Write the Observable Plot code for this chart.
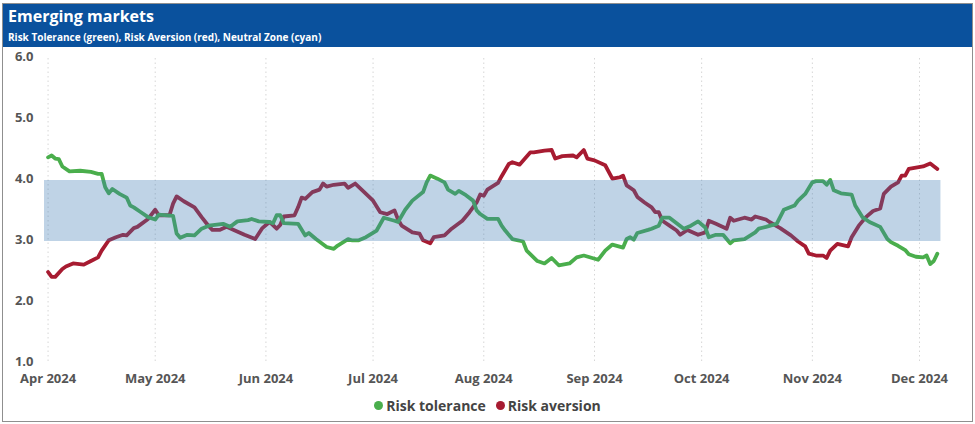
<!DOCTYPE html>
<html>
<head>
<meta charset="utf-8">
<script src="https://cdn.jsdelivr.net/npm/d3@7"></script>
<script src="https://cdn.jsdelivr.net/npm/@observablehq/plot@0.6"></script>
<style>
  html, body { margin: 0; padding: 0; background: #fff; }
  body { width: 975px; height: 424px; position: relative; overflow: hidden; font-family: "Open Sans", "Noto Sans", sans-serif; }
  #frame { position: absolute; left: 2px; top: 3px; width: 969px; height: 417px; border: 1px solid #8f8f8f; }
  #header { height: 43px; background: #0a519d; color: #fff; position: relative; }
  #title { position: absolute; left: 5px; top: 1px; font-size: 16px; font-weight: 700; }
  #subtitle { position: absolute; left: 5px; top: 26px; font-size: 10px; font-weight: 700; }
  #chart svg { display: block; }
  #legend { display: flex; justify-content: center; align-items: center; gap: 10px; margin-top: 9px; font-size: 14px; font-weight: 700; color: #444; }
  .item { display: flex; align-items: center; gap: 3px; }
  .dot { width: 9px; height: 9px; border-radius: 50%; display: inline-block; }
</style>
</head>
<body>
<div id="frame">
  <div id="header">
    <div id="title">Emerging markets</div>
    <div id="subtitle">Risk Tolerance (green), Risk Aversion (red), Neutral Zone (cyan)</div>
  </div>
  <div id="chart"></div>
  <div id="legend"></div>
</div>
<script>
const seriesNames = ["Risk tolerance", "Risk aversion"];
const seriesColors = ["#4aae4c", "#a71b31"];

const toleranceDates = ["2024-04-01","2024-04-02","2024-04-03","2024-04-04","2024-04-05","2024-04-07","2024-04-10","2024-04-13","2024-04-15","2024-04-16","2024-04-17","2024-04-18","2024-04-19","2024-04-21","2024-04-23","2024-04-24","2024-04-25","2024-04-27","2024-04-29","2024-05-01","2024-05-02","2024-05-06","2024-05-07","2024-05-08","2024-05-10","2024-05-12","2024-05-14","2024-05-16","2024-05-20","2024-05-22","2024-05-24","2024-05-27","2024-05-28","2024-05-30","2024-06-02","2024-06-03","2024-06-04","2024-06-05","2024-06-06","2024-06-10","2024-06-12","2024-06-13","2024-06-15","2024-06-18","2024-06-20","2024-06-21","2024-06-24","2024-06-25","2024-06-27","2024-06-29","2024-07-02","2024-07-04","2024-07-07","2024-07-08","2024-07-10","2024-07-12","2024-07-15","2024-07-16","2024-07-17","2024-07-19","2024-07-21","2024-07-22","2024-07-24","2024-07-25","2024-07-27","2024-07-29","2024-07-30","2024-07-31","2024-08-02","2024-08-05","2024-08-06","2024-08-07","2024-08-09","2024-08-12","2024-08-13","2024-08-16","2024-08-18","2024-08-20","2024-08-22","2024-08-25","2024-08-27","2024-08-29","2024-09-02","2024-09-04","2024-09-06","2024-09-09","2024-09-10","2024-09-11","2024-09-12","2024-09-13","2024-09-16","2024-09-17","2024-09-19","2024-09-20","2024-09-22","2024-09-24","2024-09-26","2024-09-28","2024-09-30","2024-10-02","2024-10-03","2024-10-05","2024-10-07","2024-10-09","2024-10-10","2024-10-13","2024-10-16","2024-10-17","2024-10-19","2024-10-22","2024-10-24","2024-10-27","2024-10-28","2024-10-30","2024-11-01","2024-11-02","2024-11-04","2024-11-05","2024-11-06","2024-11-07","2024-11-09","2024-11-12","2024-11-13","2024-11-15","2024-11-17","2024-11-20","2024-11-22","2024-11-23","2024-11-25","2024-11-27","2024-11-28","2024-11-30","2024-12-02","2024-12-03","2024-12-04","2024-12-05","2024-12-06"];
const toleranceValues = [4.38,4.41,4.36,4.35,4.23,4.15,4.16,4.14,4.11,4.11,3.89,3.79,3.86,3.78,3.72,3.59,3.56,3.48,3.40,3.36,3.44,3.42,3.13,3.06,3.11,3.10,3.21,3.26,3.29,3.24,3.33,3.35,3.37,3.33,3.32,3.30,3.43,3.43,3.30,3.29,3.10,3.14,3.04,2.91,2.88,2.93,3.04,3.02,3.02,3.07,3.18,3.39,3.34,3.32,3.52,3.67,3.81,3.97,4.08,4.03,3.97,3.85,3.78,3.83,3.76,3.67,3.51,3.45,3.37,3.37,3.26,3.18,3.04,3.00,2.85,2.68,2.64,2.73,2.61,2.64,2.74,2.77,2.70,2.85,2.95,2.90,3.04,3.07,3.03,3.14,3.19,3.21,3.26,3.39,3.39,3.30,3.21,3.26,3.33,3.23,3.07,3.11,3.11,2.97,3.02,3.04,3.15,3.21,3.24,3.29,3.52,3.59,3.67,3.78,3.97,3.99,3.99,3.93,4.01,3.84,3.79,3.77,3.59,3.40,3.32,3.24,3.04,2.99,2.93,2.86,2.79,2.75,2.74,2.77,2.63,2.68,2.80];

const aversionDates = ["2024-04-01","2024-04-02","2024-04-03","2024-04-05","2024-04-06","2024-04-08","2024-04-11","2024-04-13","2024-04-15","2024-04-16","2024-04-18","2024-04-20","2024-04-22","2024-04-23","2024-04-25","2024-04-26","2024-04-29","2024-05-01","2024-05-02","2024-05-05","2024-05-06","2024-05-07","2024-05-09","2024-05-12","2024-05-14","2024-05-16","2024-05-17","2024-05-19","2024-05-21","2024-05-23","2024-05-26","2024-05-29","2024-05-31","2024-06-02","2024-06-04","2024-06-05","2024-06-06","2024-06-09","2024-06-10","2024-06-11","2024-06-12","2024-06-14","2024-06-16","2024-06-17","2024-06-18","2024-06-20","2024-06-23","2024-06-24","2024-06-26","2024-06-28","2024-07-01","2024-07-03","2024-07-05","2024-07-07","2024-07-08","2024-07-09","2024-07-12","2024-07-14","2024-07-15","2024-07-17","2024-07-18","2024-07-21","2024-07-23","2024-07-26","2024-07-28","2024-07-30","2024-07-31","2024-08-01","2024-08-02","2024-08-05","2024-08-06","2024-08-08","2024-08-09","2024-08-11","2024-08-14","2024-08-15","2024-08-18","2024-08-20","2024-08-21","2024-08-23","2024-08-26","2024-08-27","2024-08-29","2024-08-30","2024-09-01","2024-09-04","2024-09-06","2024-09-08","2024-09-09","2024-09-10","2024-09-12","2024-09-13","2024-09-15","2024-09-17","2024-09-18","2024-09-19","2024-09-20","2024-09-22","2024-09-24","2024-09-25","2024-09-27","2024-09-30","2024-10-02","2024-10-03","2024-10-05","2024-10-08","2024-10-09","2024-10-10","2024-10-13","2024-10-15","2024-10-16","2024-10-19","2024-10-20","2024-10-23","2024-10-26","2024-10-28","2024-10-30","2024-10-31","2024-11-02","2024-11-04","2024-11-05","2024-11-06","2024-11-08","2024-11-11","2024-11-12","2024-11-14","2024-11-16","2024-11-18","2024-11-20","2024-11-21","2024-11-23","2024-11-25","2024-11-26","2024-11-27","2024-11-28","2024-11-30","2024-12-02","2024-12-04","2024-12-06"];
const aversionValues = [2.50,2.42,2.42,2.55,2.59,2.64,2.62,2.68,2.74,2.85,3.02,3.07,3.11,3.10,3.22,3.24,3.37,3.52,3.43,3.43,3.62,3.74,3.66,3.56,3.40,3.25,3.19,3.19,3.24,3.19,3.11,3.04,3.22,3.32,3.21,3.27,3.41,3.43,3.56,3.72,3.70,3.81,3.85,3.95,3.90,3.93,3.95,3.88,3.95,3.84,3.67,3.48,3.45,3.51,3.36,3.26,3.15,3.13,3.02,2.97,3.07,3.10,3.21,3.34,3.48,3.64,3.77,3.75,3.85,3.96,4.07,4.27,4.30,4.26,4.46,4.46,4.49,4.50,4.36,4.40,4.41,4.38,4.50,4.36,4.33,4.25,4.03,4.05,4.08,3.92,3.84,3.73,3.64,3.56,3.48,3.48,3.34,3.26,3.18,3.11,3.19,3.11,3.15,3.34,3.29,3.21,3.39,3.34,3.39,3.36,3.41,3.36,3.32,3.22,3.10,3.00,2.92,2.80,2.77,2.77,2.73,2.85,2.96,2.92,3.07,3.26,3.40,3.50,3.54,3.78,3.90,3.97,4.08,4.08,4.19,4.21,4.23,4.28,4.19];

const neutralLow = 3.0, neutralHigh = 4.0;
const neutralStart = "2024-03-31", neutralEnd = "2024-12-07";
const xDomain = ["2024-03-31", "2024-12-08"];
const yTicks = [1, 2, 3, 4, 5, 6];
const monthTicks = ["2024-04-01","2024-05-01","2024-06-01","2024-07-01","2024-08-01","2024-09-01","2024-10-01","2024-11-01","2024-12-01"];

const parse = d3.utcParse("%Y-%m-%d");
const tolerance = toleranceDates.map((d, i) => ({date: parse(d), value: toleranceValues[i]}));
const aversion = aversionDates.map((d, i) => ({date: parse(d), value: aversionValues[i]}));
const band = [{x1: parse(neutralStart), x2: parse(neutralEnd), y1: neutralLow, y2: neutralHigh}];

const chart = Plot.plot({
  width: 969,
  height: 340,
  marginLeft: 41,
  marginRight: 28,
  marginTop: 11,
  marginBottom: 24,
  style: {fontFamily: "'Open Sans', 'Noto Sans', sans-serif", fontSize: "13px", fontWeight: 700, color: "#555", background: "#fff"},
  x: {type: "utc", domain: xDomain.map(parse)},
  y: {domain: [1, 6]},
  marks: [
    Plot.gridY(yTicks, {stroke: "#c8c8c8", strokeOpacity: 1, strokeDasharray: "1.5,3", x1: 35, x2: 943}),
    Plot.gridX(monthTicks.map(parse), {stroke: "#d6d6d6", strokeOpacity: 1, strokeDasharray: "1.5,3"}),
    Plot.line(aversion, {x: "date", y: "value", stroke: seriesColors[1], strokeWidth: 3.8, strokeLinejoin: "round"}),
    Plot.line(tolerance, {x: "date", y: "value", stroke: seriesColors[0], strokeWidth: 3.8, strokeLinejoin: "round"}),
    Plot.rect(band, {x1: "x1", x2: "x2", y1: "y1", y2: "y2", fill: "#3c78b4", fillOpacity: 0.33}),
    Plot.axisY(yTicks, {tickSize: 0, tickPadding: 11, dy: -2, tickFormat: d3.format(".1f"), fill: "#555", fontSize: 13, fontWeight: 700}),
    Plot.axisX(monthTicks.map(parse), {tickSize: 0, tickPadding: 10, tickFormat: d3.utcFormat("%b %Y"), fill: "#555", fontSize: 13, fontWeight: 700})
  ]
});
document.getElementById("chart").appendChild(chart);

const legend = document.getElementById("legend");
seriesNames.forEach((name, i) => {
  const item = document.createElement("div");
  item.className = "item";
  const dot = document.createElement("span");
  dot.className = "dot";
  dot.style.background = seriesColors[i];
  const label = document.createElement("span");
  label.textContent = name;
  item.appendChild(dot);
  item.appendChild(label);
  legend.appendChild(item);
});
</script>
</body>
</html>
